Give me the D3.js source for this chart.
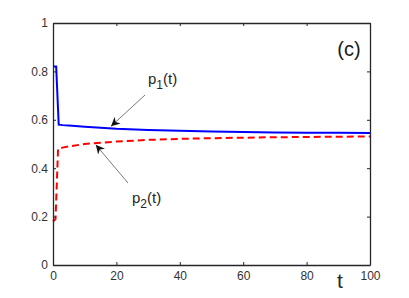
<!DOCTYPE html>
<html><head><meta charset="utf-8">
<script src="https://cdn.jsdelivr.net/npm/d3@7"></script>
<style>body{margin:0;background:#fff}svg{display:block}text{font-family:"Liberation Sans",Arial,sans-serif}</style>
</head><body><svg id="c" width="409" height="298"></svg>
<script>
const p1T = [0, 1, 1.8, 3, 5, 10, 15, 20, 30, 40, 50, 60, 70, 80, 90, 100];
const p1V = [0.82, 0.82, 0.58, 0.578, 0.576, 0.571, 0.567, 0.563, 0.558, 0.555, 0.552, 0.550, 0.548, 0.547, 0.546, 0.545];
const p2T = [0, 0.8, 1.6, 3, 5, 10, 15, 20, 30, 40, 50, 60, 70, 80, 90, 100];
const p2V = [0.18, 0.19, 0.48, 0.485, 0.49, 0.50, 0.505, 0.51, 0.517, 0.521, 0.524, 0.526, 0.528, 0.529, 0.53, 0.531];
const xTicks = [0, 20, 40, 60, 80, 100];
const yTicks = [0, 0.2, 0.4, 0.6, 0.8, 1];

const svg = d3.select("#c");
const L = 53, R = 370, T = 23, B = 265;
const x = d3.scaleLinear().domain([0, 100]).range([L, R]);
const y = d3.scaleLinear().domain([0, 1]).range([B, T]);
const ax = "#262626";

const line = d3.line().x(d => x(d[0])).y(d => y(d[1]));
svg.append("path").datum(p2T.map((t, i) => [t, p2V[i]]))
  .attr("d", line).attr("fill", "none").attr("stroke", "#ff0000")
  .attr("stroke-width", 2).attr("stroke-dasharray", "7,4");
svg.append("path").datum(p1T.map((t, i) => [t, p1V[i]]))
  .attr("d", line).attr("fill", "none").attr("stroke", "#0000ff")
  .attr("stroke-width", 2);

const fmt = d => d === 1 ? "1" : d === 0 ? "0" : d3.format(".1f")(d);
const gx = svg.append("g").attr("transform", `translate(0,${B})`)
  .call(d3.axisBottom(x).tickValues(xTicks).tickSizeInner(-3).tickSizeOuter(0).tickPadding(6));
const gxt = svg.append("g").attr("transform", `translate(0,${T})`)
  .call(d3.axisTop(x).tickValues(xTicks).tickSizeInner(-3).tickSizeOuter(0).tickFormat(""));
const gy = svg.append("g").attr("transform", `translate(${L},0)`)
  .call(d3.axisLeft(y).tickValues(yTicks).tickSizeInner(-3).tickSizeOuter(0).tickPadding(5).tickFormat(fmt));
const gyr = svg.append("g").attr("transform", `translate(${R},0)`)
  .call(d3.axisRight(y).tickValues(yTicks).tickSizeInner(-3).tickSizeOuter(0).tickFormat(""));
[gx, gxt, gy, gyr].forEach(g => {
  g.select(".domain").attr("stroke", ax).attr("stroke-width", 1.3);
  g.selectAll(".tick line").attr("stroke", ax).attr("stroke-width", 1);
  g.selectAll(".tick text").attr("fill", "#333").style("font-size", "12px");
});

svg.append("text").attr("x", 340).attr("y", 288).attr("text-anchor", "middle")
  .attr("fill", ax).style("font-size", "21px").text("t");

svg.append("text").attr("x", 349).attr("y", 56).attr("text-anchor", "middle")
  .attr("fill", "#1a1a1a").style("font-size", "20px").text("(c)");

const defs = svg.append("defs");
defs.append("marker").attr("id", "ah").attr("viewBox", "0 0 10 10").attr("refX", 10).attr("refY", 5)
  .attr("markerWidth", 9).attr("markerHeight", 9).attr("markerUnits", "userSpaceOnUse").attr("orient", "auto")
  .append("path").attr("d", "M0,0 L10,5 L0,10 L3,5 Z").attr("fill", "#111");

svg.append("line").attr("x1", 145).attr("y1", 95).attr("x2", x(18.3)).attr("y2", y(0.565) - 2)
  .attr("stroke", "#555").attr("stroke-width", 0.8).attr("marker-end", "url(#ah)");
svg.append("line").attr("x1", 128).attr("y1", 183).attr("x2", x(13.5)).attr("y2", y(0.505) + 2)
  .attr("stroke", "#555").attr("stroke-width", 0.8).attr("marker-end", "url(#ah)");

function lab(px, py, sub) {
  const t = svg.append("text").attr("x", px).attr("y", py).attr("fill", ax).style("font-size", "15px");
  t.append("tspan").text("p");
  t.append("tspan").attr("dy", 5).style("font-size", "12px").text(sub);
  t.append("tspan").attr("dy", -5).text("(t)");
}
lab(148, 84, "1");
lab(132, 203, "2");
</script></body></html>
